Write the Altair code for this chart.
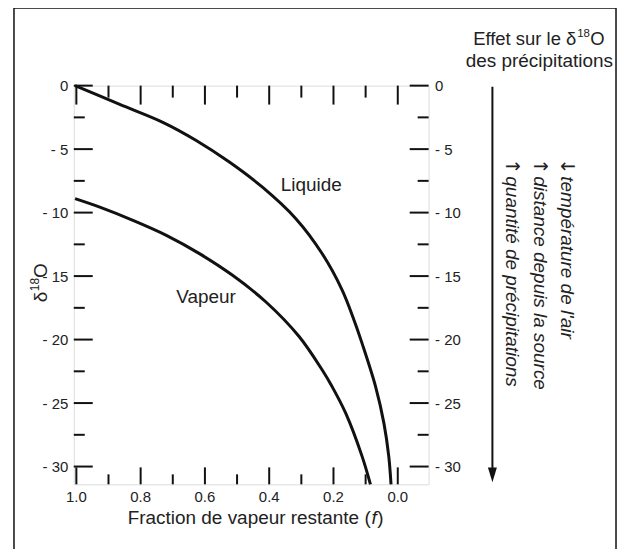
import altair as alt
import pandas as pd

# ---- data ----
liq_f = [1.004, 0.865, 0.731, 0.627, 0.524, 0.421, 0.317, 0.235, 0.173, 0.136, 0.111, 0.069, 0.043, 0.028, 0.021]
liq_d = [0.0, -1.48, -2.89, -4.32, -6.02, -8.0, -10.48, -13.24, -16.1, -18.47, -20.3, -23.7, -26.6, -29.2, -31.4]
vap_f = [1.004, 0.927, 0.824, 0.720, 0.617, 0.514, 0.410, 0.307, 0.235, 0.204, 0.162, 0.111, 0.085]
vap_d = [-8.9, -9.57, -10.61, -11.79, -13.23, -14.94, -17.04, -19.76, -22.4, -23.72, -25.8, -29.2, -31.4]

label_text = ["Liquide", "Vapeur"]
label_f = [0.364, 0.689]
label_d = [-8.33, -17.1]

x_major = [1.0, 0.8, 0.6, 0.4, 0.2, 0.0]
x_minor = [0.9, 0.7, 0.5, 0.3, 0.1]
y_major = [0, -5, -10, -15, -20, -25, -30]
y_minor = [-2.5, -7.5, -12.5, -17.5, -22.5, -27.5]

x_domain = [-0.096, 1.008]
y_domain = [-31.4, 0]

x_title = ["Fraction de vapeur restante (", "f", ")"]
y_title = ["δ", "18", "O"]
head_1 = ["Effet sur le δ", "18", "O"]
head_2 = "des précipitations"
side_arrows = ["\u2193", "\u2191", "\u2191"]
side_texts = ["température de l'air", "distance depuis la source", "quantité de précipitations"]

W, H = 356, 400
INK = "#111111"
TXT = "#222222"
FONT = "Liberation Sans"

xs = alt.Scale(domain=x_domain, reverse=True, nice=False, zero=False)
ys = alt.Scale(domain=y_domain, nice=False, zero=False)

curves = pd.DataFrame({
    "f": liq_f + vap_f,
    "d": liq_d + vap_d,
    "s": ["Liquide"] * len(liq_f) + ["Vapeur"] * len(vap_f),
})

y_label_expr = "datum.value == 0 ? '0' : '- ' + abs(datum.value)"
y_axis_left = alt.Axis(orient="left", values=y_major, labelExpr=y_label_expr, title=None,
                       ticks=False, domain=False, grid=False, labelPadding=6,
                       labelFontSize=15, labelColor=TXT, labelFont=FONT)
y_axis_right = alt.Axis(orient="right", values=y_major, labelExpr=y_label_expr, title=None,
                        ticks=False, domain=False, grid=False, labelPadding=6,
                        labelFontSize=15, labelColor=TXT, labelFont=FONT)

lines = alt.Chart(curves).mark_line(color=INK, strokeWidth=3, interpolate="catmull-rom").encode(
    x=alt.X("f:Q", scale=xs, axis=None),
    y=alt.Y("d:Q", scale=ys, axis=y_axis_left),
    detail="s:N",
)

# ticks (inward)
xmaj = pd.DataFrame({"v": x_major})
xmin = pd.DataFrame({"v": x_minor})
ymaj = pd.DataFrame({"v": y_major})
ymin = pd.DataFrame({"v": y_minor})

def xticks(df, y0, y1, sw):
    return alt.Chart(df).mark_rule(color=INK, strokeWidth=sw).encode(
        x=alt.X("v:Q", scale=xs, axis=None), y=alt.value(y0), y2=alt.value(y1))

def yticks(df, x0, x1, sw, axis=None):
    return alt.Chart(df).mark_rule(color=INK, strokeWidth=sw).encode(
        y=alt.Y("v:Q", scale=ys, axis=axis), x=alt.value(x0), x2=alt.value(x1))

ticks = [
    xticks(xmaj, H, H - 17, 2), xticks(xmin, H, H - 10, 2),
    xticks(xmaj, 0, 19, 2), xticks(xmin, 0, 12, 2),
    yticks(ymaj, 0, 19, 2), yticks(ymin, 0, 11, 2),
    yticks(ymaj, W, W - 19, 2, axis=y_axis_right), yticks(ymin, W, W - 11, 2),
]

# x tick labels
x_labels = alt.Chart(xmaj).mark_text(
    align="center", baseline="alphabetic", fontSize=15, font=FONT, color=TXT
).encode(x=alt.X("v:Q", scale=xs, axis=None), y=alt.value(H + 18),
         text=alt.Text("v:Q", format=".1f"))

labels = alt.Chart(pd.DataFrame({"t": label_text, "f": label_f, "d": label_d})).mark_text(
    align="left", baseline="alphabetic", fontSize=19, font=FONT, color=TXT
).encode(x=alt.X("f:Q", scale=xs, axis=None), y=alt.Y("d:Q", scale=ys, axis=None), text="t:N")

one = pd.DataFrame({"k": [0]})

def txt(text, x, y, size=19, align="left", angle=0, style="normal", font=FONT):
    return alt.Chart(one).mark_text(
        text=text, align=align, baseline="alphabetic", fontSize=size, font=font,
        color=TXT, angle=angle, fontStyle=style
    ).encode(x=alt.value(x), y=alt.value(y))

annots = [
    # x title
    txt(x_title[0], 297.9, 440, align="right"),
    txt(x_title[1], 298.6, 440, style="italic"),
    txt(x_title[2], 304.4, 440),
    # y title (rotated, reads bottom to top)
    txt(y_title[0], -27, 217.4, angle=270),
    txt(y_title[1], -35, 206.3, size=12, angle=270),
    txt(y_title[2], -27, 193.0, angle=270),
    # heading top right
    txt(head_1[0], 400.7, -41, size=18.5),
    txt(head_1[1], 505.0, -48.5, size=11.5),
    txt(head_1[2], 518.2, -41, size=18.5),
    txt(head_2, 467, -18.5, align="center"),
]
for i, bx in enumerate([489, 462, 434]):
    annots.append(txt(side_arrows[i], bx, 73, size=19, angle=90, font="DejaVu Sans"))
    annots.append(txt(side_texts[i], bx, 91, angle=90, style="italic"))

arrow_line = alt.Chart(one).mark_rule(color=INK, strokeWidth=2).encode(
    x=alt.value(420), y=alt.value(1), y2=alt.value(386))
arrow_head = alt.Chart(one).mark_point(
    shape="M-0.6,-1L0.6,-1L0,1Z", size=225, filled=True, color=INK, opacity=1
).encode(x=alt.value(420), y=alt.value(390.5))

border = alt.Chart(one).mark_rect(fill=None, stroke=INK, strokeWidth=1.5).encode(
    x=alt.value(-60), x2=alt.value(544), y=alt.value(-78), y2=alt.value(480))

chart = alt.layer(
    border, lines, *ticks, x_labels, labels, *annots, arrow_line, arrow_head
).resolve_axis(y="independent").properties(
    width=W, height=H,
    autosize=alt.AutoSizeParams(type="none"),
    padding={"left": 66, "top": 77, "right": 190, "bottom": 64},
).configure_view(stroke=INK, strokeWidth=1.5).configure(font=FONT)

chart.save("out.html", embed_options={"renderer": "svg", "actions": False})
